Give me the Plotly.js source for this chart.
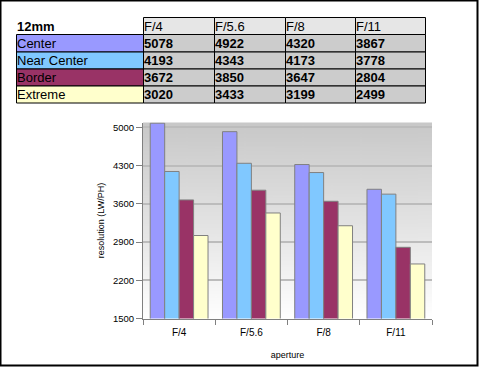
<!DOCTYPE html>
<html><head><meta charset="utf-8">
<script src="https://cdn.plot.ly/plotly-3.0.1.min.js"></script>
<style>html,body{margin:0;padding:0;background:#fff}#chart{width:479px;height:367px}</style>
</head><body><div id="chart"></div>
<script>
var tableTitle = "12mm";
var apertures = ["F/4", "F/5.6", "F/8", "F/11"];
var seriesNames = ["Center", "Near Center", "Border", "Extreme"];
var center = [5078, 4922, 4320, 3867];
var nearCenter = [4193, 4343, 4173, 3778];
var border = [3672, 3850, 3647, 2804];
var extreme = [3020, 3433, 3199, 2499];
var seriesValues = [center, nearCenter, border, extreme];
var seriesColors = ["#9999ff", "#80c8ff", "#993366", "#ffffcc"];

var W = 479, H = 367;
var FONT = 'Arial, Liberation Sans, sans-serif';
var xd = [143/W, 432/W];
var yd = [(H-318.5)/H, (H-122.5)/H];

// gradient background for plot area
var cv = document.createElement('canvas');
cv.width = 10; cv.height = 200;
var ctx = cv.getContext('2d');
var g = ctx.createLinearGradient(0,0,0,200);
g.addColorStop(0, '#c8c8c8');
g.addColorStop(0.5, '#e2e2e2');
g.addColorStop(1, '#ffffff');
ctx.fillStyle = g; ctx.fillRect(0,0,10,200);
var bgURL = cv.toDataURL();

var traces = seriesNames.map(function(n,i){
  return {type:'bar', name:n, x:apertures, y:seriesValues[i],
    marker:{color:seriesColors[i], line:{color:'#808080', width:1}},
    hoverinfo:'none', showlegend:false};
});

// table built from the arrays as shapes + annotations
var colEdges = [16, 143, 214, 285, 355, 425];
var rowEdges = [17, 34, 51.5, 68.5, 85.5, 102.5];
function px(x){ return x/W; }
function py(y){ return 1 - y/H; }
var shapes = [], annotations = [];
var headerRow = [tableTitle].concat(apertures);
var rows = [headerRow];
seriesNames.forEach(function(n,i){
  rows.push([n].concat(seriesValues[i].map(String)));
});
rows.forEach(function(row, r){
  row.forEach(function(txt, c){
    var fill, bold, size = 13;
    if (r === 0) {
      fill = c === 0 ? '#ffffff' : '#e6e6e6';
      bold = c === 0;
    } else {
      fill = c === 0 ? seriesColors[r-1] : '#cccccc';
      bold = c !== 0;
    }
    if (!(r === 0 && c === 0)) {
      shapes.push({type:'rect', xref:'paper', yref:'paper', layer:'below',
        x0:px(colEdges[c]+0.5), x1:px(colEdges[c+1]+0.5), y0:py(rowEdges[r+1]+0.5), y1:py(rowEdges[r]+0.5),
        fillcolor:fill, line:{color:'#000', width:1}});
    }
    annotations.push({xref:'paper', yref:'paper', x:px(colEdges[c]+1), y:py((rowEdges[r]+rowEdges[r+1])/2+0.5),
      xanchor:'left', yanchor:'middle', showarrow:false, borderpad:0, borderwidth:0,
      text: bold ? '<b>'+txt+'</b>' : txt, font:{family:FONT, size:size, color:'#000'}});
  });
});

shapes.push({type:'rect', xref:'paper', yref:'paper', x0:0.5/W, x1:477.5/W, y0:1-365.5/H, y1:1-0.5/H,
    line:{color:'#000', width:2}, fillcolor:'rgba(0,0,0,0)'});

var layout = {
  width:W, height:H, margin:{l:0,r:0,t:0,b:0},
  paper_bgcolor:'#ffffff', plot_bgcolor:'rgba(0,0,0,0)',
  barmode:'group', bargap:0.2, bargroupgap:0,
  font:{family:FONT, size:9, color:'#000'},
  xaxis:{domain:xd, showline:true, linecolor:'#808080', linewidth:1,
    ticks:'outside', tickson:'boundaries', ticklen:5, tickcolor:'#808080', ticklabelstandoff:4,
    tickfont:{size:10}, title:{text:'aperture', font:{size:9}, standoff:15}, automargin:false},
  yaxis:{domain:yd, range:[1500,5090], tick0:1500, dtick:700, showline:true, linecolor:'#808080', linewidth:1,
    ticks:'outside', ticklen:6, tickcolor:'#808080', showgrid:true, gridcolor:'#bcbcbc', gridwidth:2,
    zeroline:false, tickfont:{size:9.5}, title:{text:'resolution (LW/PH)', font:{size:9}, standoff:6}, automargin:false},
  images:[{source:bgURL, xref:'paper', yref:'paper', x:xd[0], y:yd[1], sizex:xd[1]-xd[0], sizey:yd[1]-yd[0],
    sizing:'stretch', layer:'below', xanchor:'left', yanchor:'top'}],
  shapes:shapes, annotations:annotations
};
Plotly.newPlot('chart', traces, layout, {staticPlot:true, displayModeBar:false});
</script></body></html>
